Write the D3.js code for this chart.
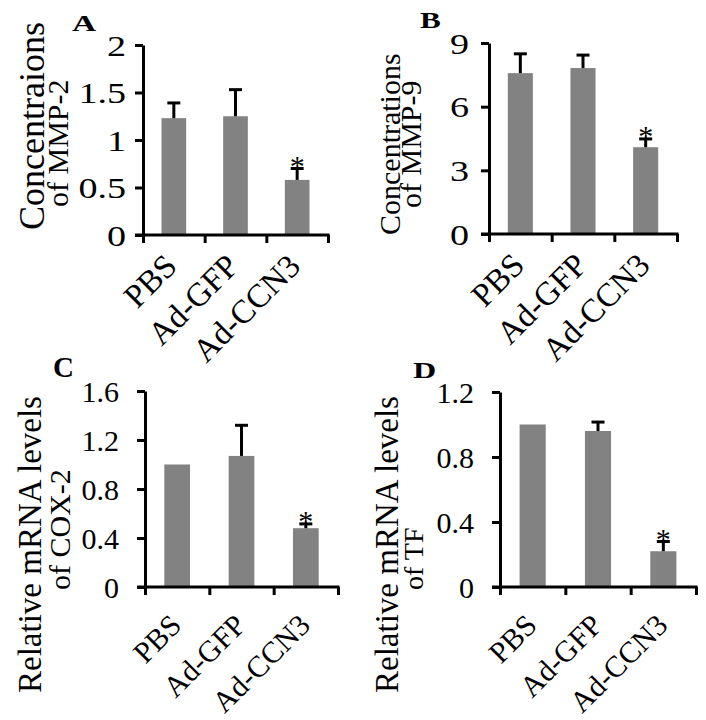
<!DOCTYPE html>
<html>
<head>
<meta charset="utf-8">
<script src="https://cdn.jsdelivr.net/npm/d3@7/dist/d3.min.js"></script>
<style>
  html, body { margin: 0; padding: 0; background: #fff; }
  svg { display: block; }
  text { font-family: "Liberation Serif", "Times New Roman", serif; fill: #000; }
</style>
</head>
<body>
<svg id="chart" width="706" height="720"></svg>
<script>
// ---------- data ----------
const categories = ["PBS", "Ad-GFP", "Ad-CCN3"];

const meansA = [1.23, 1.25, 0.58];
const errorsA = [0.16, 0.28, 0.12];
const ticksA = [0, 0.5, 1, 1.5, 2];
const tickLabelsA = ["0", "0.5", "1", "1.5", "2"];

const meansB = [7.58, 7.82, 4.09];
const errorsB = [0.91, 0.61, 0.39];
const ticksB = [0, 3, 6, 9];
const tickLabelsB = ["0", "3", "6", "9"];

const meansC = [1.0, 1.07, 0.48];
const errorsC = [0, 0.25, 0.035];
const ticksC = [0, 0.4, 0.8, 1.2, 1.6];
const tickLabelsC = ["0", "0.4", "0.8", "1.2", "1.6"];

const meansD = [1.0, 0.96, 0.22];
const errorsD = [0, 0.055, 0.06];
const ticksD = [0, 0.4, 0.8, 1.2];
const tickLabelsD = ["0", "0.4", "0.8", "1.2"];

const significance = ["", "", "*"];

const letters = ["A", "B", "C", "D"];
const titleLine1 = ["Concentraions", "Concentrations", "Relative mRNA levels", "Relative mRNA levels"];
const titleLine2 = ["of MMP-2", "of MMP-9", "of COX-2", "of TF"];

// ---------- layout (positions / styles only) ----------
const layout = [
  { means: meansA, errors: errorsA, ticks: ticksA, tickLabels: tickLabelsA,
    x0: 143, x1: 328, y0: 235, y1: 45, tickGap: 17, sx: 1.27, labFs: 33,
    letter: { x: 72, y: 31, fs: 24, sx: 1.4 },
    t1: { x: 44, y: 230, fs: 36 }, t2: { x: 68, y: 207, fs: 30 }, lab: [5, 33] },
  { means: meansB, errors: errorsB, ticks: ticksB, tickLabels: tickLabelsB,
    x0: 489, x1: 677, y0: 234, y1: 43, tickGap: 20, sx: 1.27, labFs: 33,
    letter: { x: 420, y: 28, fs: 24, sx: 1.3 },
    t1: { x: 400, y: 235, fs: 30 }, t2: { x: 421, y: 208, fs: 30 }, lab: [6, 33] },
  { means: meansC, errors: errorsC, ticks: ticksC, tickLabels: tickLabelsC,
    x0: 145, x1: 338, y0: 587, y1: 391, tickGap: 26, sx: 1, labFs: 30,
    letter: { x: 53, y: 377, fs: 29, sx: 1 },
    t1: { x: 41, y: 693, fs: 33 }, t2: { x: 70, y: 590, fs: 30 }, lab: [6, 40] },
  { means: meansD, errors: errorsD, ticks: ticksD, tickLabels: tickLabelsD,
    x0: 500, x1: 696, y0: 587, y1: 392, tickGap: 26, sx: 1, labFs: 30,
    letter: { x: 413, y: 378, fs: 23, sx: 1.4 },
    t1: { x: 398, y: 693, fs: 33 }, t2: { x: 423, y: 590, fs: 28 }, lab: [6, 40] }
];

const svg = d3.select("#chart");
const barColor = "#828282";
const lw = 3;

layout.forEach((p, pi) => {
  const g = svg.append("g");
  const y = d3.scaleLinear().domain([0, p.ticks[p.ticks.length - 1]]).range([p.y0, p.y1]);
  const x = d3.scaleBand().domain(categories).range([p.x0, p.x1]).paddingInner(0.6).paddingOuter(0.3);
  const xb = d3.scaleLinear().domain([0, categories.length]).range([p.x0, p.x1]);

  // bars
  g.selectAll("rect.bar").data(categories).enter().append("rect")
    .attr("class", "bar")
    .attr("x", d => x(d))
    .attr("width", x.bandwidth())
    .attr("y", (d, i) => y(p.means[i]))
    .attr("height", (d, i) => p.y0 - y(p.means[i]))
    .attr("fill", barColor);

  // error bars (upper only)
  categories.forEach((c, i) => {
    if (p.errors[i] <= 0) return;
    const cx = x(c) + x.bandwidth() / 2;
    const top = y(p.means[i] + p.errors[i]);
    g.append("line").attr("x1", cx).attr("x2", cx)
      .attr("y1", y(p.means[i])).attr("y2", top)
      .attr("stroke", "#000").attr("stroke-width", lw);
    g.append("line").attr("x1", cx - 6.5).attr("x2", cx + 6.5)
      .attr("y1", top).attr("y2", top)
      .attr("stroke", "#000").attr("stroke-width", lw);
  });

  // significance stars
  categories.forEach((c, i) => {
    if (!significance[i]) return;
    const cx = x(c) + x.bandwidth() / 2;
    const top = y(p.means[i] + p.errors[i]);
    g.append("text").attr("x", cx).attr("y", top + 7)
      .attr("text-anchor", "middle").attr("font-size", 30)
      .text(significance[i]);
  });

  // y axis
  const yAxis = d3.axisLeft(y).tickValues(p.ticks).tickSize(8).tickSizeOuter(0)
    .tickFormat((d, i) => p.tickLabels[i]);
  const ya = g.append("g").attr("transform", `translate(${p.x0},0)`).call(yAxis);
  ya.select(".domain").attr("stroke", "#000").attr("stroke-width", lw);
  ya.selectAll(".tick line").attr("stroke", "#000").attr("stroke-width", lw);
  ya.selectAll(".tick text")
    .attr("x", 0)
    .attr("transform", `translate(${-p.tickGap},0) scale(${p.sx},1)`)
    .attr("font-size", 30)
    .attr("dy", "0.34em");

  // x axis
  const xAxis = d3.axisBottom(xb).tickValues(d3.range(categories.length + 1))
    .tickSize(8).tickSizeOuter(0).tickFormat("");
  const xa = g.append("g").attr("transform", `translate(0,${p.y0})`).call(xAxis);
  xa.select(".domain").attr("stroke", "#000").attr("stroke-width", lw)
    .attr("d", `M${p.x0 - 8},0H${p.x1 + 1.5}`);
  xa.selectAll(".tick line").attr("stroke", "#000").attr("stroke-width", lw);

  // x labels rotated
  g.selectAll("text.xl").data(categories).enter().append("text")
    .attr("class", "xl")
    .attr("transform", d => `translate(${x(d) + x.bandwidth() / 2 + p.lab[0]},${p.y0 + p.lab[1]}) rotate(-45)`)
    .attr("text-anchor", "end")
    .attr("font-size", p.labFs)
    .text(d => d);

  // y titles
  g.append("text")
    .attr("transform", `translate(${p.t1.x},${p.t1.y}) rotate(-90)`)
    .attr("text-anchor", "start").attr("font-size", p.t1.fs)
    .text(titleLine1[pi]);
  g.append("text")
    .attr("transform", `translate(${p.t2.x},${p.t2.y}) rotate(-90)`)
    .attr("text-anchor", "start").attr("font-size", p.t2.fs)
    .text(titleLine2[pi]);

  // panel letter
  g.append("text")
    .attr("transform", `translate(${p.letter.x},${p.letter.y}) scale(${p.letter.sx},1)`)
    .attr("font-size", p.letter.fs).attr("font-weight", "bold")
    .text(letters[pi]);
});
</script>
</body>
</html>
